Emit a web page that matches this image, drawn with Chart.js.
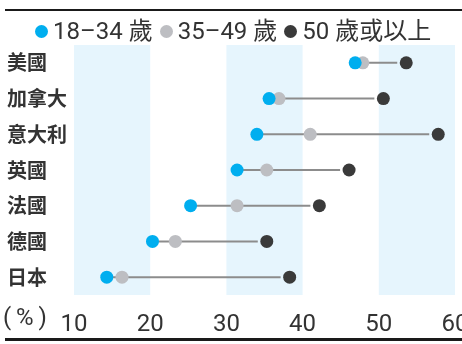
<!DOCTYPE html>
<html>
<head>
<meta charset="utf-8">
<script src="https://cdn.jsdelivr.net/npm/chart.js@4/dist/chart.umd.min.js"></script>
<style>
  html, body { margin: 0; padding: 0; background: #fff; }
  .wrap { position: relative; width: 462px; height: 344px; overflow: hidden; }
  .legend {
    position: absolute; top: 15px; left: 35px;
    display: flex; gap: 7px; align-items: center;
    font: 24px Roboto, "Noto Sans CJK TC", sans-serif; color: #333; line-height: 32px;
  }
  .legend span { display: flex; align-items: center; }
  .legend i { display: inline-block; width: 13px; height: 13px; border-radius: 50%; margin-right: 5px; }
</style>
</head>
<body>
<div class="wrap">
  <canvas id="chart" width="462" height="344"></canvas>
  <div class="legend">
    <span><i style="background:#00aeef"></i>18–34 歲</span>
    <span><i style="background:#bdbec2"></i>35–49 歲</span>
    <span><i style="background:#3a3a3a"></i>50 歲或以上</span>
  </div>
</div>
<script>
// share by age group, %
const countries = ['美國', '加拿大', '意大利', '英國', '法國', '德國', '日本'];
const age18to34 = [46.9, 35.6, 34.0, 31.4, 25.3, 20.3, 14.3];
const age35to49 = [47.9, 36.9, 41.0, 35.3, 31.4, 23.3, 16.3];
const age50plus = [53.6, 50.6, 57.8, 46.1, 42.2, 35.3, 38.3];
const xTicks = [10, 20, 30, 40, 50, 60];
const shadedBands = [[10, 20], [30, 40], [50, 60]];

const toPoints = (vals) => vals.map((v, i) => ({ x: v, y: countries[i] }));

// light blue columns + connectors, then rules top/bottom + (%) label
const backdrop = {
  id: 'backdrop',
  beforeDatasetsDraw(chart) {
    const { ctx, chartArea, scales } = chart;
    ctx.save();
    ctx.fillStyle = '#e6f5fd';
    shadedBands.forEach(([a, b]) => {
      const x1 = scales.x.getPixelForValue(a);
      const x2 = scales.x.getPixelForValue(b);
      ctx.fillRect(x1, chartArea.top, x2 - x1, chartArea.bottom - chartArea.top);
    });
    ctx.strokeStyle = '#8c8c8c';
    ctx.lineWidth = 2;
    countries.forEach((c, i) => {
      const y = scales.y.getPixelForValue(i);
      ctx.beginPath();
      ctx.moveTo(scales.x.getPixelForValue(age18to34[i]), y);
      ctx.lineTo(scales.x.getPixelForValue(age50plus[i]) - 9, y);
      ctx.stroke();
    });
    ctx.restore();
  },
  afterDraw(chart) {
    const { ctx, width } = chart;
    ctx.save();
    ctx.fillStyle = '#1a1a1a';
    ctx.fillRect(5, 9, width - 5, 2);
    ctx.fillRect(5, 338, width - 5, 3);
    ctx.fillStyle = '#333';
    ctx.font = '24px Roboto, "Noto Sans CJK TC", sans-serif';
    ctx.textBaseline = 'middle';
    ctx.fillText('(\u2009%\u2009)', 3, 319);
    ctx.restore();
  }
};

const ctx = document.getElementById('chart').getContext('2d');
new Chart(ctx, {
  type: 'scatter',
  data: {
    datasets: [
      { label: '18–34歲', data: toPoints(age18to34), backgroundColor: '#00aeef' },
      { label: '35–49歲', data: toPoints(age35to49), backgroundColor: '#bdbec2' },
      { label: '50歲或以上', data: toPoints(age50plus), backgroundColor: '#3a3a3a' }
    ]
  },
  options: {
    responsive: false,
    animation: false,
    layout: { padding: { top: 45, left: 7, right: 7, bottom: 0 } },
    elements: { point: { radius: 6.5, borderWidth: 0, hoverRadius: 6.5 } },
    plugins: { legend: { display: false }, tooltip: { enabled: false } },
    scales: {
      x: {
        type: 'linear',
        min: 10,
        max: 60,
        afterBuildTicks: (scale) => { scale.ticks = xTicks.map((v) => ({ value: v })); },
        afterFit: (scale) => { scale.paddingRight = 0; scale.height = 49; },
        grid: { display: false },
        border: { display: false },
        ticks: {
          padding: 8,
          color: '#333',
          font: { family: 'Roboto, "Noto Sans CJK TC", sans-serif', size: 24 }
        }
      },
      y: {
        type: 'category',
        labels: countries,
        offset: true,
        afterFit: (scale) => { scale.width = 67; },
        grid: { display: false },
        border: { display: false },
        ticks: {
          crossAlign: 'far',
          color: '#333',
          font: { family: '"Noto Sans CJK TC", sans-serif', size: 20, weight: 'bold' }
        }
      }
    }
  },
  plugins: [backdrop]
});
</script>
</body>
</html>
